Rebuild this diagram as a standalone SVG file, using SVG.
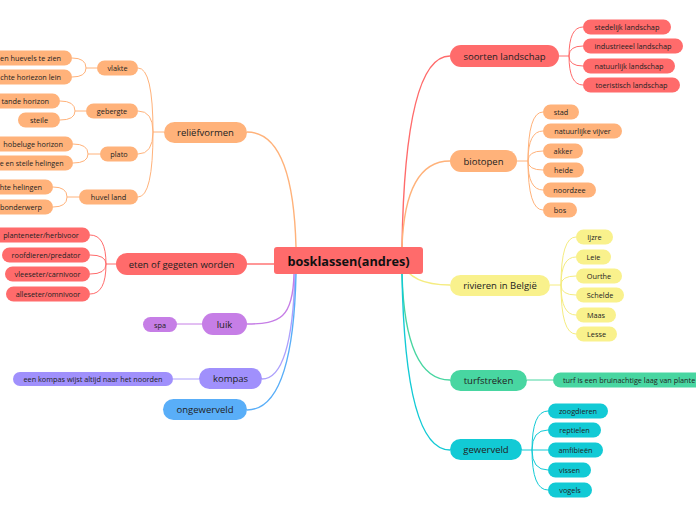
<svg xmlns="http://www.w3.org/2000/svg" width="696" height="520" viewBox="0 0 696 520">
<style>
.t{font-family:"Open Sans","Noto Sans",sans-serif;fill:#222;dominant-baseline:central}
.m{font-size:9.5px;text-anchor:middle}
.c{font-size:7.3px;text-anchor:middle}
.ce{font-size:7.3px;text-anchor:end}
.cs{font-size:7.3px;text-anchor:start}
.root{font-size:12.7px;font-weight:bold;text-anchor:middle;fill:#111}
.red{fill:#FF6B6B}.org{fill:#FFB27A}.yel{fill:#F9F18C}.grn{fill:#48D6A1}.cyn{fill:#12CAD5}.pur{fill:#C67EE6}.lav{fill:#A090FC}.blu{fill:#59AEF8}
.l{fill:none;stroke-width:1.4}.s{fill:none;stroke-width:1}
.lr{stroke:#FF6B6B}.lo{stroke:#FFB27A}.ly{stroke:#F5EC80}.lg{stroke:#48D6A1}.lc{stroke:#12CAD5}.lp{stroke:#C67EE6}.ll{stroke:#ADA0FC}.lb{stroke:#59AEF8}
</style>
<rect width="696" height="520" fill="#fff"/>
<g id="connectors">
<path class="l lr" d="M402,247 Q405,56 450,56"/>
<path class="l lo" d="M402,247 Q405,161 450,161"/>
<path class="l ly" d="M402,262 Q410,285 450,285"/>
<path class="l lg" d="M402,274 Q405,380 450,380"/>
<path class="l lc" d="M402,274 Q405,450 450,450"/>
<path class="l lo" d="M296,247 Q293,132 247,132"/>
<path class="l lr" d="M274,264 L247,264"/>
<path class="l lp" d="M294,274 C293,318 280,324 247,324"/>
<path class="l ll" d="M295,274 Q292,379 262,379"/>
<path class="l lb" d="M296,274 Q293,410 247,410"/>
<path class="s lr" d="M559,56 L569,56 M569,56 Q569,27 583,27 M569,56 Q569,46 583,46 M569,56 Q569,66 583,66 M569,56 Q569,85 583,85"/>
<path class="s lo" d="M517,161 L528,161 M528,161 Q528,112 543,112 M528,161 Q528,131 543,131 M528,161 Q528,151 543,151 M528,161 Q528,170 543,170 M528,161 Q528,190 543,190 M528,161 Q528,210 543,210"/>
<path class="s ly" d="M550,285 L561,285 M561,285 Q561,237 576,237 M561,285 Q561,257 576,257 M561,285 Q561,276 576,276 M561,285 Q561,295 576,295 M561,285 Q561,315 576,315 M561,285 Q561,334 576,334"/>
<path class="s lg" d="M527,380 L553,380"/>
<path class="s lc" d="M522,450 L532,450 M532,450 Q532,411 548,411 M532,450 Q532,430 548,430 M532,450 L548,450 M532,450 Q532,470 548,470 M532,450 Q532,490 548,490"/>
<path class="s lo" d="M164,132 L153,132 M153,132 Q153,68 138,68 M153,132 Q153,111 138,111 M153,132 Q153,154 138,154 M153,132 Q153,197 138,197"/>
<path class="s lo" d="M97,68 L86,68 M86,68 Q86,58 72,58 M86,68 Q86,77 72,77"/>
<path class="s lo" d="M86,111 L75,111 M75,111 Q75,101 60,101 M75,111 Q75,120 60,120"/>
<path class="s lo" d="M100,154 L88,154 M88,154 Q88,144 73,144 M88,154 Q88,163 73,163"/>
<path class="s lo" d="M79,197 L67,197 M67,197 Q67,187 53,187 M67,197 Q67,207 53,207"/>
<path class="s lr" d="M116,264 L106,264 M106,264 Q106,235 90,235 M106,264 Q106,255 90,255 M106,264 Q106,274 90,274 M106,264 Q106,294 90,294"/>
<path class="s lp" d="M202,324 L177,324"/>
<path class="s ll" d="M199,379 L173,379"/>
</g>
<g id="root"><rect class="red" x="274" y="247" width="149" height="27" rx="3"/><text class="t root" x="348.5" y="261">bosklassen(andres)</text></g>

<g id="soorten-landschap"><rect class="red" x="450" y="45" width="109" height="22" rx="11"/><text class="t m" x="504.5" y="56">soorten landschap</text></g>
<g id="stedelijk"><rect class="red" x="583" y="19.5" width="88" height="15" rx="7.5"/><text class="t c" x="627" y="27">stedelijk landschap</text></g>
<g id="industrieel"><rect class="red" x="583" y="38.5" width="100" height="15" rx="7.5"/><text class="t c" x="633" y="46">industrieeel landschap</text></g>
<g id="natuurlijk"><rect class="red" x="583" y="58.5" width="92" height="15" rx="7.5"/><text class="t c" x="629" y="66">natuurlijk landschap</text></g>
<g id="toeristisch"><rect class="red" x="583" y="77.5" width="97" height="15" rx="7.5"/><text class="t c" x="631.5" y="85">toeristisch landschap</text></g>

<g id="biotopen"><rect class="org" x="450" y="150" width="67" height="22" rx="11"/><text class="t m" x="483.5" y="161">biotopen</text></g>
<g id="stad"><rect class="org" x="543" y="104.5" width="36" height="15" rx="7.5"/><text class="t c" x="561" y="112">stad</text></g>
<g id="vijver"><rect class="org" x="543" y="123.5" width="79" height="15" rx="7.5"/><text class="t c" x="582.5" y="131">natuurlijke vijver</text></g>
<g id="akker"><rect class="org" x="543" y="143.5" width="40" height="15" rx="7.5"/><text class="t c" x="563" y="151">akker</text></g>
<g id="heide"><rect class="org" x="543" y="162.5" width="41" height="15" rx="7.5"/><text class="t c" x="563.5" y="170">heide</text></g>
<g id="noordzee"><rect class="org" x="543" y="182.5" width="53" height="15" rx="7.5"/><text class="t c" x="569.5" y="190">noordzee</text></g>
<g id="bos"><rect class="org" x="543" y="202.5" width="34" height="15" rx="7.5"/><text class="t c" x="560" y="210">bos</text></g>

<g id="rivieren"><rect class="yel" x="450" y="275" width="100" height="21" rx="10.5"/><text class="t m" x="500" y="285.5">rivieren in België</text></g>
<g id="ijzre"><rect class="yel" x="576" y="229.5" width="37" height="15" rx="7.5"/><text class="t c" x="594.5" y="237">Ijzre</text></g>
<g id="leie"><rect class="yel" x="576" y="249.5" width="35" height="15" rx="7.5"/><text class="t c" x="593.5" y="257">Leie</text></g>
<g id="ourthe"><rect class="yel" x="576" y="268.5" width="46" height="15" rx="7.5"/><text class="t c" x="599" y="276">Ourthe</text></g>
<g id="schelde"><rect class="yel" x="576" y="287.5" width="48" height="15" rx="7.5"/><text class="t c" x="600" y="295">Schelde</text></g>
<g id="maas"><rect class="yel" x="576" y="307.5" width="40" height="15" rx="7.5"/><text class="t c" x="596" y="315">Maas</text></g>
<g id="lesse"><rect class="yel" x="576" y="326.5" width="41" height="15" rx="7.5"/><text class="t c" x="596.5" y="334">Lesse</text></g>

<g id="turfstreken"><rect class="grn" x="450" y="370" width="77" height="21" rx="10.5"/><text class="t m" x="488.5" y="380.5">turfstreken</text></g>
<g id="turf"><rect class="grn" x="553" y="372.5" width="170" height="15" rx="7.5"/><text class="t cs" x="563" y="380">turf is een bruinachtige laag van plante</text></g>

<g id="gewerveld"><rect class="cyn" x="450" y="439" width="72" height="21" rx="10.5"/><text class="t m" x="486" y="449.5">gewerveld</text></g>
<g id="zoogdieren"><rect class="cyn" x="548" y="403.5" width="60" height="15" rx="7.5"/><text class="t c" x="578" y="411">zoogdieren</text></g>
<g id="reptielen"><rect class="cyn" x="548" y="422.5" width="53" height="15" rx="7.5"/><text class="t c" x="574.5" y="430">reptielen</text></g>
<g id="amfibieen"><rect class="cyn" x="548" y="442.5" width="55" height="15" rx="7.5"/><text class="t c" x="575.5" y="450">amfibieën</text></g>
<g id="vissen"><rect class="cyn" x="548" y="462.5" width="43" height="15" rx="7.5"/><text class="t c" x="569.5" y="470">vissen</text></g>
<g id="vogels"><rect class="cyn" x="548" y="482.5" width="44" height="15" rx="7.5"/><text class="t c" x="570" y="490">vogels</text></g>

<g id="reliefvormen"><rect class="org" x="164" y="122" width="83" height="21" rx="10.5"/><text class="t m" x="205.5" y="132.5">reliëfvormen</text></g>
<g id="vlakte"><rect class="org" x="97" y="60.5" width="41" height="15" rx="7.5"/><text class="t c" x="117.5" y="68">vlakte</text></g>
<g id="gebergte"><rect class="org" x="86" y="103.5" width="52" height="15" rx="7.5"/><text class="t c" x="112" y="111">gebergte</text></g>
<g id="plato"><rect class="org" x="100" y="146.5" width="38" height="15" rx="7.5"/><text class="t c" x="119" y="154">plato</text></g>
<g id="huvel-land"><rect class="org" x="79" y="189.5" width="59" height="15" rx="7.5"/><text class="t c" x="108.5" y="197">huvel land</text></g>
<g id="huevels"><rect class="org" x="-30" y="50.5" width="102" height="15" rx="7.5"/><text class="t ce" x="61" y="58">en huevels te zien</text></g>
<g id="horiezon"><rect class="org" x="-30" y="69.5" width="102" height="15" rx="7.5"/><text class="t ce" x="61" y="77">chte horiezon lein</text></g>
<g id="getande"><rect class="org" x="-30" y="93.5" width="90" height="15" rx="7.5"/><text class="t ce" x="49" y="101">tande horizon</text></g>
<g id="steile"><rect class="org" x="18" y="112.5" width="42" height="15" rx="7.5"/><text class="t c" x="39" y="120">steile</text></g>
<g id="hobeluge"><rect class="org" x="-8" y="136.5" width="81" height="15" rx="7.5"/><text class="t ce" x="63" y="144">hobeluge horizon</text></g>
<g id="helingen1"><rect class="org" x="-30" y="155.5" width="103" height="15" rx="7.5"/><text class="t ce" x="63.5" y="163" style="font-size:7.1px">e en steile helingen</text></g>
<g id="helingen2"><rect class="org" x="-30" y="179.5" width="83" height="15" rx="7.5"/><text class="t ce" x="42" y="187">hte helingen</text></g>
<g id="onderwerp"><rect class="org" x="-30" y="199.5" width="83" height="15" rx="7.5"/><text class="t ce" x="42" y="207">bonderwerp</text></g>

<g id="eten"><rect class="red" x="116" y="253" width="131" height="22" rx="11"/><text class="t m" x="181.5" y="264">eten of gegeten worden</text></g>
<g id="herbivoor"><rect class="red" x="-8" y="227.5" width="98" height="15" rx="7.5"/><text class="t c" x="41" y="235">planteneter/herbivoor</text></g>
<g id="predator"><rect class="red" x="2" y="247.5" width="88" height="15" rx="7.5"/><text class="t c" x="46" y="255">roofdieren/predator</text></g>
<g id="carnivoor"><rect class="red" x="5" y="266.5" width="85" height="15" rx="7.5"/><text class="t c" x="47.5" y="274">vleeseter/carnivoor</text></g>
<g id="omnivoor"><rect class="red" x="6" y="286.5" width="84" height="15" rx="7.5"/><text class="t c" x="48" y="294">alleseter/omnivoor</text></g>

<g id="luik"><rect class="pur" x="202" y="313" width="45" height="22" rx="11"/><text class="t m" x="224.5" y="324">luik</text></g>
<g id="spa"><rect class="pur" x="143" y="317" width="34" height="15" rx="7.5"/><text class="t c" x="160" y="324.5">spa</text></g>

<g id="kompas"><rect class="lav" x="199" y="368" width="63" height="21" rx="10.5"/><text class="t m" x="230.5" y="378.5">kompas</text></g>
<g id="noorden"><rect class="lav" x="13" y="372" width="160" height="14" rx="7"/><text class="t c" x="93" y="379">een kompas wijst altijd naar het noorden</text></g>

<g id="ongewerveld"><rect class="blu" x="163" y="399" width="84" height="21" rx="10.5"/><text class="t m" x="205" y="409.5">ongewerveld</text></g>
</svg>
